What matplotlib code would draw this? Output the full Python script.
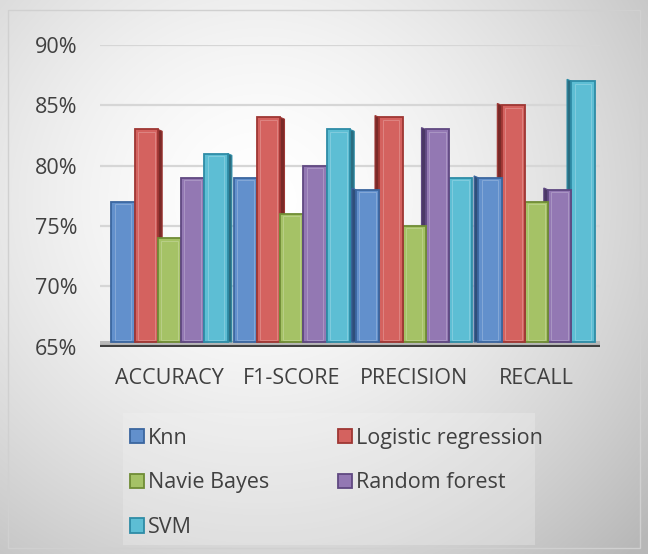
import matplotlib.pyplot as plt
import numpy as np
from matplotlib.patches import Polygon, Rectangle

# chart data
categories = ["ACCURACY", "F1-SCORE", "PRECISION", "RECALL"]
models = ["Knn", "Logistic regression", "Navie Bayes", "Random forest", "SVM"]
knn = [77, 79, 78, 79]
logistic = [83, 84, 84, 85]
naive_bayes = [74, 76, 75, 77]
random_forest = [79, 80, 83, 78]
svm = [81, 83, 79, 87]
series = [knn, logistic, naive_bayes, random_forest, svm]
yticks = [65, 70, 75, 80, 85, 90]

faces = ["#6290CC", "#D4625F", "#A5C266", "#9378B3", "#5DBED4"]
edges = ["#3B669F", "#9E3633", "#6F8C35", "#5F4881", "#2E8CA6"]
sides = ["#2F4F7A", "#7A2A28", "#5A7230", "#4B3866", "#2A6D80"]

plt.rcParams["font.family"] = ["Open Sans", "DejaVu Sans"]
FS = 15.5

fig = plt.figure(figsize=(6.48, 5.54), dpi=100)

# background with a soft gray vignette
bg = fig.add_axes([0, 0, 1, 1], zorder=-10)
yy, xx = np.mgrid[0:554, 0:648]
r = np.sqrt(((xx - 260) / 520.0) ** 2 + ((yy - 200) / 500.0) ** 2)
shade = 1 - 0.28 * np.clip(r, 0, 1) ** 1.6
bg.imshow(np.dstack([shade] * 3), extent=[0, 648, 554, 0], aspect="auto")
bg.add_patch(Rectangle((123, 413), 412, 132, facecolor="#f3f3f3", edgecolor="none", alpha=0.3))
bg.add_patch(Rectangle((8, 10), 632, 538, facecolor="none", edgecolor="#d0d0d0", lw=1))
bg.set_xlim(0, 648)
bg.set_ylim(554, 0)
bg.axis("off")

ax = fig.add_axes([0.154, 0.374, 0.772, 0.545])
ax.patch.set_alpha(0)
ax.set_ylim(65, 90)
ax.set_xlim(-0.57, 3.52)

for t in yticks[1:]:
    ax.axhline(t, color="#d6d6d6", lw=1.6, zorder=0)

# floor
ax.add_patch(Rectangle((-0.57, 65), 4.09, 0.45, facecolor="#b8b8b8", edgecolor="none", zorder=1))
ax.axhline(65, color="#404040", lw=3, zorder=2, xmin=-0.01)

w = 0.19
depth = 0.035
dy = -0.15
x = np.arange(len(categories))
for i, vals in enumerate(series):
    pos = x + (i - 2) * w
    for g, (px, v) in enumerate(zip(pos, vals)):
        right = g < 2
        z = 3 + (i if right else (5 - i)) * 2
        x0, x1 = px - w / 2, px + w / 2
        if right:
            side = [(x1, 65.4), (x1 + depth, 65.4), (x1 + depth, v + dy), (x1, v)]
        else:
            side = [(x0, 65.4), (x0 - depth, 65.4), (x0 - depth, v - dy), (x0, v)]
        ax.add_patch(Polygon(side, closed=True, facecolor=sides[i], edgecolor=edges[i],
                             lw=0.8, zorder=z))
        ax.bar(px, v - 65.4, bottom=65.4, width=w, color=faces[i], edgecolor=edges[i],
               lw=1.3, zorder=z + 1)
        ax.bar(px, v - 65.8, bottom=65.6, width=w * 0.72, color="none",
               edgecolor="white", lw=0.6, alpha=0.25, zorder=z + 1)

ax.set_yticks(yticks)
ax.set_yticklabels([f"{t}%" for t in yticks], fontsize=FS, color="#404040")
ax.set_xticks(x)
ax.set_xticklabels(categories, fontsize=FS, color="#404040")
ax.tick_params(axis="y", length=0, pad=16)
ax.tick_params(axis="x", length=0, pad=15)
for s in ax.spines.values():
    s.set_visible(False)

# legend is row-major in the reference; matplotlib fills by column
order = [0, 2, 4, 1, 3]
handles = [Rectangle((0, 0), 1, 1, facecolor=faces[i], edgecolor=edges[i], lw=1.3)
           for i in order]
leg = fig.legend(handles, [models[i] for i in order], loc="upper left",
                 bbox_to_anchor=(0.2, 0.228), ncol=2, frameon=False, fontsize=FS,
                 handlelength=0.65, handleheight=0.65, handletextpad=0.2,
                 columnspacing=3.2, labelspacing=1.1, borderaxespad=0, borderpad=0)
for t in leg.get_texts():
    t.set_color("#404040")

fig.savefig("out.png", dpi=100)
